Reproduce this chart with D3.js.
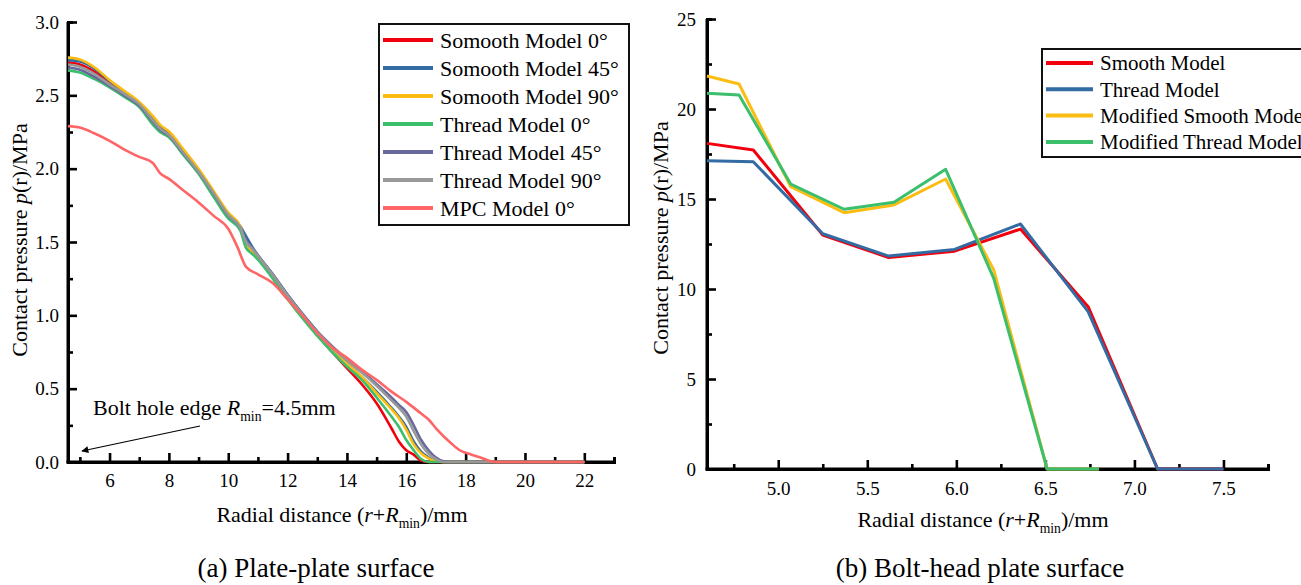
<!DOCTYPE html>
<html>
<head>
<meta charset="utf-8">
<script src="https://cdn.jsdelivr.net/npm/d3@7/dist/d3.min.js"></script>
<style>
  body { margin: 0; background: #fff; }
  svg text { font-family: 'Liberation Serif', 'Times New Roman', serif; fill: #000; }
</style>
</head>
<body>
<svg id="chart" width="1301" height="585"></svg>
<script>
'use strict';

// (a) plate-plate surface
const plateX = [4.6, 5, 5.5, 6, 6.5, 7, 7.5, 7.7, 8, 8.5, 9, 9.5, 10, 10.4, 10.6, 10.8, 11, 11.5, 12, 12.5,
    13, 13.5, 14, 14.5, 15, 15.5, 15.75, 16, 16.25, 16.5, 16.75, 17, 17.25, 17.5, 18, 19, 20, 21, 22];
const smooth0 = [2.725, 2.71, 2.66, 2.585, 2.51, 2.44, 2.33, 2.28, 2.235, 2.11, 1.98, 1.83, 1.68, 1.60, 1.47, 1.43, 1.39, 1.26, 1.12, 0.99,
    0.87, 0.75, 0.64, 0.53, 0.40, 0.23, 0.14, 0.08, 0.05, 0.01, 0, 0, 0, 0, 0, 0, 0, 0, 0];
const smooth45 = [2.74, 2.73, 2.68, 2.60, 2.525, 2.45, 2.34, 2.29, 2.245, 2.12, 1.99, 1.84, 1.69, 1.61, 1.54, 1.47, 1.41, 1.28, 1.14, 1.01,
    0.89, 0.77, 0.67, 0.58, 0.48, 0.37, 0.31, 0.24, 0.14, 0.07, 0.03, 0.005, 0, 0, 0, 0, 0, 0, 0];
const smooth90 = [2.757, 2.745, 2.69, 2.605, 2.53, 2.455, 2.35, 2.30, 2.255, 2.13, 2.0, 1.85, 1.70, 1.61, 1.48, 1.44, 1.40, 1.27, 1.13, 1.0,
    0.88, 0.77, 0.67, 0.58, 0.47, 0.36, 0.30, 0.22, 0.12, 0.06, 0.025, 0.003, 0, 0, 0, 0, 0, 0, 0];
const thread0 = [2.67, 2.655, 2.61, 2.555, 2.49, 2.42, 2.29, 2.25, 2.215, 2.09, 1.965, 1.81, 1.66, 1.58, 1.46, 1.42, 1.38, 1.25, 1.11, 0.98,
    0.86, 0.75, 0.65, 0.56, 0.44, 0.31, 0.24, 0.15, 0.08, 0.02, 0, 0, 0, 0, 0, 0, 0, 0, 0];
const thread45 = [2.69, 2.675, 2.625, 2.565, 2.50, 2.43, 2.31, 2.265, 2.225, 2.10, 1.975, 1.83, 1.68, 1.60, 1.51, 1.46, 1.41, 1.28, 1.14, 1.01,
    0.89, 0.79, 0.70, 0.62, 0.53, 0.44, 0.39, 0.34, 0.25, 0.15, 0.08, 0.03, 0.005, 0, 0, 0, 0, 0, 0];
const thread90 = [2.71, 2.695, 2.645, 2.575, 2.51, 2.44, 2.32, 2.275, 2.23, 2.105, 1.98, 1.835, 1.685, 1.60, 1.50, 1.455, 1.405, 1.275, 1.135, 1.005,
    0.885, 0.78, 0.69, 0.61, 0.52, 0.42, 0.37, 0.31, 0.21, 0.12, 0.055, 0.02, 0, 0, 0, 0, 0, 0, 0];
const mpcX = [4.6, 5, 5.5, 6, 6.5, 7, 7.45, 7.7, 8, 8.5, 9, 9.5, 10, 10.3, 10.6, 11, 11.5, 12, 12.5, 13, 13.5,
    14, 14.5, 15, 15.5, 16, 16.5, 16.75, 17, 17.5, 17.8, 18.2, 18.5, 19, 20, 21, 22];
const mpc0 = [2.29, 2.28, 2.24, 2.19, 2.13, 2.08, 2.04, 1.97, 1.93, 1.85, 1.77, 1.68, 1.59, 1.47, 1.33, 1.28, 1.22, 1.11, 1.0, 0.88, 0.78,
    0.71, 0.63, 0.56, 0.48, 0.41, 0.33, 0.29, 0.23, 0.13, 0.08, 0.05, 0.03, 0, 0, 0, 0];
const plateNames = ['Somooth Model 0°', 'Somooth Model 45°', 'Somooth Model 90°', 'Thread Model 0°',
    'Thread Model 45°', 'Thread Model 90°', 'MPC Model 0°'];
const plateXTicks = [6, 8, 10, 12, 14, 16, 18, 20, 22];
const plateYTicks = [0, 0.5, 1.0, 1.5, 2.0, 2.5, 3.0];

// (b) bolt-head plate surface
const headX = [4.6, 4.86, 5.25, 5.62, 5.99, 6.36, 6.74, 7.13, 7.5];
const headSmooth = [18.09, 17.72, 13.0, 11.75, 12.1, 13.33, 9.02, 0, 0];
const headThread = [17.13, 17.07, 13.07, 11.83, 12.2, 13.61, 8.74, 0, 0];
const modX = [4.6, 4.78, 5.07, 5.37, 5.65, 5.94, 6.21, 6.51, 6.8];
const modSmooth = [21.83, 21.39, 15.68, 14.24, 14.67, 16.11, 11.06, 0, 0];
const modThread = [20.87, 20.78, 15.83, 14.43, 14.82, 16.65, 10.59, 0, 0];
const headNames = ['Smooth Model', 'Thread Model', 'Modified Smooth Model', 'Modified Thread Model'];
const headXTicks = [5.0, 5.5, 6.0, 6.5, 7.0, 7.5];
const headYTicks = [0, 5, 10, 15, 20, 25];

const plateColors = ['#f2000d', '#336ba3', '#fcbd12', '#3cbf6c', '#686a9e', '#989898', '#ff6566'];
const headColors = ['#f2000d', '#336ba3', '#fcbd12', '#3cbf6c'];

const svg = d3.select('#chart');

const plateSeries = [
    {x: plateX, y: smooth0}, {x: plateX, y: smooth45}, {x: plateX, y: smooth90},
    {x: plateX, y: thread0}, {x: plateX, y: thread45}, {x: plateX, y: thread90},
    {x: mpcX, y: mpc0}
].map((s, i) => Object.assign(s, {name: plateNames[i], color: plateColors[i]}));

const headSeries = [
    {x: headX, y: headSmooth}, {x: headX, y: headThread},
    {x: modX, y: modSmooth}, {x: modX, y: modThread}
].map((s, i) => Object.assign(s, {name: headNames[i], color: headColors[i]}));

// subscripted "R_min" helper
const addRmin = (text) => {
    text.append('tspan').attr('font-style', 'italic').text('R');
    text.append('tspan').attr('font-size', '0.62em').attr('dy', 6).text('min');
};

function drawPanel(p) {
    const x = d3.scaleLinear().domain(p.xDomain).range(p.xRange);
    const y = d3.scaleLinear().domain(p.yDomain).range(p.yRange);
    const g = svg.append('g');
    const y0 = p.yRange[0];
    const x0 = p.xRange[0];

    // minor ticks
    g.append('g')
        .attr('transform', `translate(0,${y0})`)
        .call(d3.axisBottom(x).tickValues(p.xMinor).tickSize(-5).tickFormat(''));
    g.append('g')
        .attr('transform', `translate(${x0},0)`)
        .call(d3.axisLeft(y).tickValues(p.yMinor).tickSize(-5).tickFormat(''));

    const xAxis = g.append('g')
        .attr('transform', `translate(0,${y0})`)
        .call(d3.axisBottom(x).tickValues(p.xTicks).tickSize(-9).tickSizeOuter(0)
            .tickPadding(p.xPad).tickFormat(p.xFormat));
    const yAxis = g.append('g')
        .attr('transform', `translate(${x0},0)`)
        .call(d3.axisLeft(y).tickValues(p.yTicks).tickSize(-9).tickSizeOuter(0)
            .tickPadding(p.yPad).tickFormat(p.yFormat));

    g.selectAll('.tick line').attr('stroke', '#000').attr('stroke-width', 2.6);
    g.selectAll('.domain').attr('stroke', '#000').attr('stroke-width', 3);
    g.selectAll('.tick text').style('font-family', "'Liberation Serif', serif").style('font-size', '19px').attr('fill', '#000');
    xAxis.select('.domain').attr('d', `M${x0 - 1.5},0H${p.xRange[1]}`);
    yAxis.select('.domain').attr('d', `M0,${p.yRange[1]}V${y0 + 1.5}`);

    const line = d3.line()
        .x((d) => x(d[0]))
        .y((d) => y(d[1]))
        .curve(p.curve);

    g.selectAll('.series')
        .data(p.series)
        .enter().append('path')
        .attr('class', 'series')
        .attr('fill', 'none')
        .attr('stroke', (d) => d.color)
        .attr('stroke-width', p.lineWidth)
        .attr('stroke-linejoin', 'round')
        .attr('d', (d) => line(d.x.map((v, i) => [v, d.y[i]])));

    // legend
    const lg = p.legend;
    g.append('rect')
        .attr('x', lg.x).attr('y', lg.y)
        .attr('width', lg.w).attr('height', lg.h)
        .attr('fill', '#fff').attr('stroke', '#111').attr('stroke-width', 2);
    const rows = g.selectAll('.legend-row')
        .data(p.series)
        .enter().append('g')
        .attr('transform', (d, i) => `translate(${lg.x + 4},${lg.y + lg.first + i * lg.step})`);
    rows.append('line')
        .attr('x1', 0).attr('x2', lg.lineLen)
        .attr('stroke', (d) => d.color).attr('stroke-width', 4);
    rows.append('text')
        .attr('x', lg.lineLen + 7)
        .attr('dy', '0.35em')
        .style('font-size', lg.font + 'px')
        .text((d) => d.name);

    // axis titles
    const xt = g.append('text')
        .attr('x', p.xTitle[0]).attr('y', p.xTitle[1])
        .attr('text-anchor', 'middle')
        .style('font-size', '22px');
    xt.append('tspan').text('Radial distance (');
    xt.append('tspan').attr('font-style', 'italic').text('r');
    xt.append('tspan').text('+');
    addRmin(xt);
    xt.append('tspan').attr('dy', -6).text(')/mm');

    const yt = g.append('text')
        .attr('transform', `translate(${p.yTitle[0]},${p.yTitle[1]}) rotate(-90)`)
        .attr('text-anchor', 'middle')
        .style('font-size', '22px');
    yt.append('tspan').text('Contact pressure ');
    yt.append('tspan').attr('font-style', 'italic').text('p');
    yt.append('tspan').text('(r)/MPa');

    g.append('text')
        .attr('x', p.caption[0]).attr('y', p.caption[1])
        .attr('text-anchor', 'middle')
        .style('font-size', '27px')
        .text(p.caption[2]);

    return {x, y, g};
}

const left = drawPanel({
    series: plateSeries,
    xDomain: [4.6, 23], xRange: [68, 614],
    yDomain: [0, 3], yRange: [462, 22],
    xTicks: plateXTicks, xMinor: d3.range(5, 24, 2),
    yTicks: plateYTicks, yMinor: d3.range(0.25, 3, 0.5),
    xFormat: d3.format('d'), yFormat: d3.format('.1f'),
    xPad: 12, yPad: 9,
    curve: d3.curveMonotoneX,
    lineWidth: 2.6,
    legend: {x: 379, y: 24, w: 250, h: 201, first: 16, step: 28, lineLen: 50, font: 22},
    xTitle: [342, 522], yTitle: [27, 240],
    caption: [316, 577, '(a) Plate-plate surface']
});

drawPanel({
    series: headSeries,
    xDomain: [4.6, 7.75], xRange: [707, 1268],
    yDomain: [0, 25], yRange: [469, 19],
    xTicks: headXTicks, xMinor: d3.range(4.75, 7.76, 0.5),
    yTicks: headYTicks, yMinor: d3.range(2.5, 25, 5),
    xFormat: d3.format('.1f'), yFormat: d3.format('d'),
    xPad: 13, yPad: 11,
    curve: d3.curveLinear,
    lineWidth: 3,
    legend: {x: 1042, y: 49, w: 280, h: 108, first: 14, step: 26.3, lineLen: 47, font: 21},
    xTitle: [983, 527], yTitle: [668, 238],
    caption: [980, 577, '(b) Bolt-head plate surface']
});

// bolt hole edge annotation
svg.append('defs').append('marker')
    .attr('id', 'arrow')
    .attr('viewBox', '0 0 10 10')
    .attr('refX', 9).attr('refY', 5)
    .attr('markerWidth', 10).attr('markerHeight', 7)
    .attr('markerUnits', 'userSpaceOnUse')
    .attr('orient', 'auto')
    .append('path').attr('d', 'M0,0L10,5L0,10z').attr('fill', '#000');

const note = left.g.append('text')
    .attr('x', 93).attr('y', 415)
    .style('font-size', '22px');
note.append('tspan').text('Bolt hole edge ');
addRmin(note);
note.append('tspan').attr('dy', -6).text('=4.5mm');

left.g.append('line')
    .attr('x1', 200).attr('y1', 426)
    .attr('x2', 82).attr('y2', 451)
    .attr('stroke', '#000').attr('stroke-width', 1.2)
    .attr('marker-end', 'url(#arrow)');
</script>
</body>
</html>
